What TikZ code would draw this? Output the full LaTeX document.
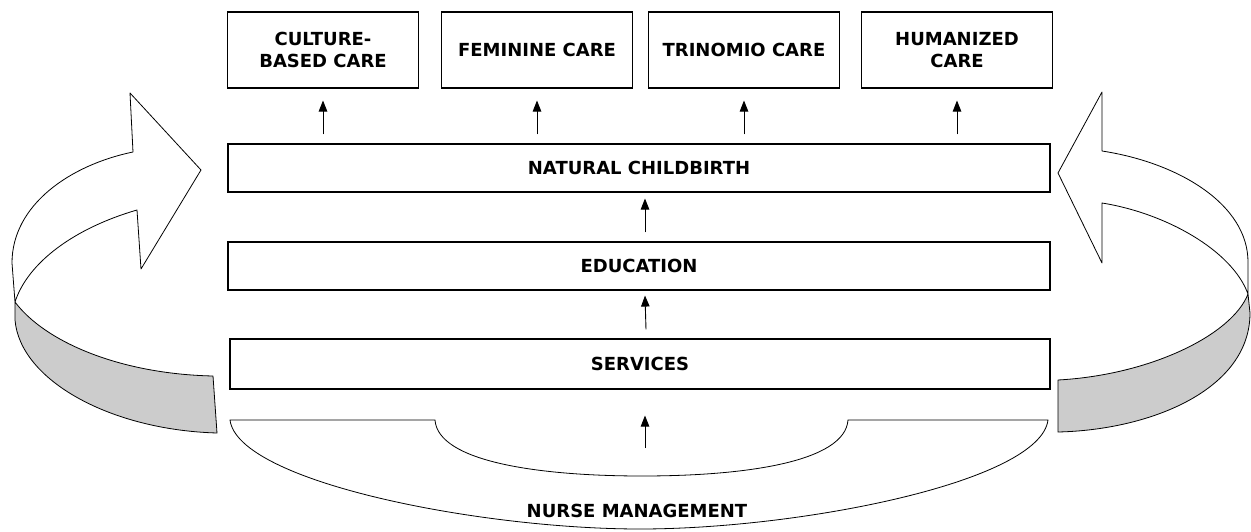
\documentclass[tikz,border=0pt]{standalone}
\usepackage{fontspec}
\setmainfont{DejaVu Sans}
\usetikzlibrary{arrows.meta}
\begin{document}
\begin{tikzpicture}[x=1pt,y=-1pt,
  lbl/.style={font=\bfseries\fontsize{18}{21.5}\selectfont, align=center, inner sep=0pt},
  topbox/.style={lbl, draw, line width=1.1pt, minimum width=191pt, minimum height=76pt},
  barbox/.style={lbl, draw, line width=1.1pt, minimum width=822pt, minimum height=48pt},
  upar/.style={line width=0.9pt, -{Triangle[width=8.5pt,length=11pt]}},
  ribbon/.style={draw, line width=0.8pt, fill=white, line join=round},
  ribbonback/.style={draw, line width=0.8pt, fill=gray!40, line join=round}]
\useasboundingbox (0,0) rectangle (1251,532);

% left turning ribbon arrow
\path[ribbonback] (15,302) .. controls (45,342) and (120,374) .. (213,376)
  -- (217,433) .. controls (110,430) and (20,380) .. (15,320) -- cycle;
\path[ribbon] (15,302) .. controls (28,262) and (75,228) .. (137,210)
  -- (141,269) -- (201,170) -- (130,93) -- (133,152)
  .. controls (70,165) and (12,205) .. (12,263) -- cycle;

% right turning ribbon arrow
\path[ribbonback] (1248,294) .. controls (1232,335) and (1150,375) .. (1058,380)
  -- (1058,432) .. controls (1150,430) and (1250,390) .. (1250,313) -- cycle;
\path[ribbon] (1248,294) .. controls (1232,250) and (1165,213) .. (1102,203)
  -- (1102,263) -- (1058,173) -- (1102,92) -- (1102,151)
  .. controls (1180,163) and (1248,205) .. (1248,262) -- cycle;

% top row of care models
\node[topbox] (cult) at (323,50)   {CULTURE-\\BASED CARE};
\node[topbox] (fem)  at (537,50)   {FEMININE CARE};
\node[topbox] (tri)  at (744,50)   {TRINOMIO CARE};
\node[topbox] (hum)  at (957,50)   {HUMANIZED\\CARE};

% stacked bars
\node[barbox] (nat)  at (639,168) {NATURAL CHILDBIRTH};
\node[barbox] (edu)  at (639,266) {EDUCATION};
\node[barbox, minimum width=820pt, minimum height=50pt] (serv) at (640,364) {SERVICES};

% nurse management base
\draw[line width=0.8pt, fill=white] (230,420) -- (435,420)
  .. controls (438,462) and (540,476) .. (642,476)
  .. controls (745,476) and (845,462) .. (848,420)
  -- (1048,420)
  .. controls (1040,482) and (800,529) .. (640,529)
  .. controls (480,529) and (238,482) .. (230,420) -- cycle;
\node[lbl, anchor=base] (nm) at (637,517) {NURSE MANAGEMENT};
\coordinate (nmtop) at (645,448);

% upward arrows
\foreach \b in {cult,fem,tri,hum}
  \draw[upar] ([yshift=9pt]\b.south |- nat.north) -- ([yshift=-12pt]\b.south);
\draw[upar] ([xshift=6pt,yshift=9pt]edu.north) -- ([xshift=6pt,yshift=-6pt]nat.south);
\draw[upar] ([xshift=6pt,yshift=9pt]serv.north) -- ([xshift=6pt,yshift=-5pt]edu.south);
\draw[upar] (nmtop) -- ([yshift=-26pt]nmtop |- serv.south);
\end{tikzpicture}
\end{document}
